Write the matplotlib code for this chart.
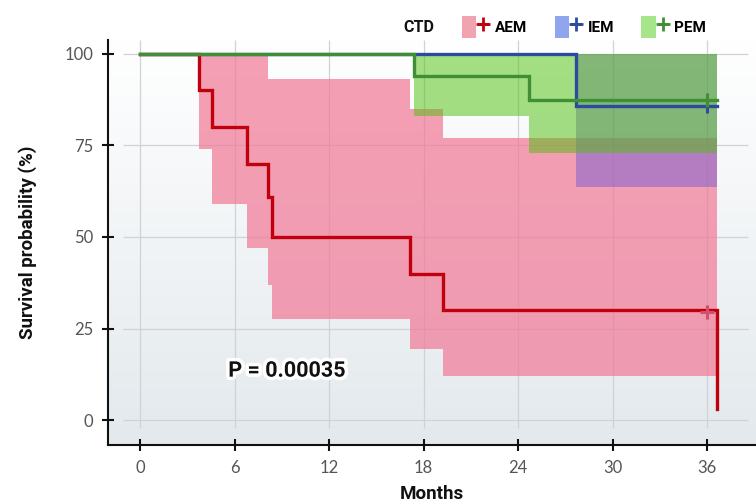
import numpy as np
import matplotlib
matplotlib.use("Agg")
import matplotlib.pyplot as plt
import matplotlib.patheffects as pe
from matplotlib.lines import Line2D
from matplotlib.patches import Patch
from matplotlib.legend_handler import HandlerTuple, HandlerLine2D

# ── Data ──────────────────────────────────────────────────────────────────
groups = ["AEM", "IEM", "PEM"]

aem_t  = [0, 3.75, 4.55, 6.77, 8.1, 8.35, 17.15, 19.25, 36.6]
aem_s  = [100, 90, 80, 70, 61, 50, 40, 30, 3]
aem_hi = [100, 100, 100, 100, 93, 93, 85, 77, 77]
aem_lo = [100, 74, 59, 47, 37, 27.5, 19.5, 12, 12]

iem_t  = [0, 27.7, 36.6]
iem_s  = [100, 85.7, 85.7]
iem_hi = [100, 100, 100]
iem_lo = [100, 63.7, 63.7]

pem_t  = [0, 17.4, 24.7, 36.6]
pem_s  = [100, 94, 87.5, 87.5]
pem_hi = [100, 100, 100, 100]
pem_lo = [100, 83, 73, 73]

censor_t = [36, 36, 36]
censor_s = [29.5, 85.7, 87.5]

x_ticks = [0, 6, 12, 18, 24, 30, 36]
y_ticks = [0, 25, 50, 75, 100]
p_text  = "P = 0.00035"

# ── Style ─────────────────────────────────────────────────────────────────
LINE_C  = ["#c0000c", "#2b4c9e", "#3f8f35"]
FILL_C  = ["#f17795", "#7a5fd0", "#4cc00a"]
FILL_A  = [0.70, 0.50, 0.50]
KEY_C   = ["#f2a3b0", "#8fa6ef", "#a6e58a"]
MARK_C  = ["#d0506e", "#2b4c9e", "#3f8f35"]
GRID_C  = "#cfd3d6"
TICK_C  = "#555555"


class ShortLine(HandlerLine2D):
    # legend key: short line with the censor "+" in the middle
    def get_xdata(self, legend, xdescent, ydescent, width, height, fontsize):
        xd = np.array([-xdescent + 0.22 * width, -xdescent + 0.78 * width])
        return xd, np.array([-xdescent + 0.5 * width])


fig = plt.figure(figsize=(7.56, 5.04), dpi=100)
ax = fig.add_axes([0.143, 0.117, 0.857, 0.804])
ax.set_xlim(-2.03, 39.1)
ax.set_ylim(-6.8, 103.8)

# panel gradient
grad = np.linspace(0, 1, 256).reshape(-1, 1)
cmap = matplotlib.colors.LinearSegmentedColormap.from_list("bg", ["#e3e9ed", "#ffffff"])
ax.imshow(grad, cmap=cmap, aspect="auto", origin="lower",
          extent=[-2.03, 39.1, -6.8, 103.8], zorder=0)

# grid
ax.hlines(y_ticks, -1.07, 38.6, color=GRID_C, lw=0.9, zorder=1)
ax.vlines(x_ticks, -2.2, 103.8, color=GRID_C, lw=0.9, zorder=1)

series = [
    (aem_t, aem_s, aem_lo, aem_hi),
    (iem_t, iem_s, iem_lo, iem_hi),
    (pem_t, pem_s, pem_lo, pem_hi),
]

for i, (t, s, lo, hi) in enumerate(series):
    ax.fill_between(t, lo, hi, step="post", color=FILL_C[i], alpha=FILL_A[i],
                    linewidth=0, zorder=2 + i)

for i, (t, s, lo, hi) in enumerate(series):
    ax.plot(t, s, drawstyle="steps-post", color=LINE_C[i], lw=2.4,
            solid_joinstyle="miter", zorder=6 + i)
    ax.plot(censor_t[i], censor_s[i], marker="+", color=MARK_C[i],
            markersize=10, mew=2.2, linestyle="none", zorder=9 + i)

ax.text(9.3, 13.5, p_text, fontsize=15.5, fontweight="bold", family="Roboto",
        ha="center", va="center", color="#111111", zorder=12,
        path_effects=[pe.withStroke(linewidth=5, foreground="white")])

# axes styling
for side in ["top", "right"]:
    ax.spines[side].set_visible(False)
for side in ["left", "bottom"]:
    ax.spines[side].set_linewidth(1.5)
    ax.spines[side].set_color("#111111")
    ax.spines[side].set_zorder(15)

ax.set_xticks(x_ticks)
ax.set_yticks(y_ticks)
ax.tick_params(direction="inout", length=9, width=1.5, color="#111111",
               labelsize=12, labelcolor=TICK_C, pad=6)
for lab in ax.get_xticklabels() + ax.get_yticklabels():
    lab.set_family("Lato")

ax.set_xlabel("Months", fontsize=13.5, fontweight="bold", family="Roboto",
              color="#111111", labelpad=7)
ax.set_ylabel("Survival probability (%)", fontsize=13.5, fontweight="bold",
              family="Roboto", color="#111111", labelpad=20)

# legend
handles = []
for i in range(3):
    handles.append((Patch(facecolor=KEY_C[i], edgecolor="none"),
                    Line2D([], [], color=LINE_C[i], lw=2.2, marker="+",
                           markersize=10, mew=2)))
fig.text(403 / 756, 1 - 27 / 504, "CTD", fontsize=11.5, fontweight="bold",
         family="Roboto", ha="left", va="center", color="#111111")
fig.legend(handles, groups,
           handler_map={tuple: HandlerTuple(ndivide=None), Line2D: ShortLine()},
           loc="center left", bbox_to_anchor=(462 / 756, 1 - 27 / 504),
           ncol=3, frameon=False, handlelength=1.85, handleheight=1.9,
           handletextpad=0.3, columnspacing=1.8, borderpad=0, borderaxespad=0,
           prop={"family": "Roboto", "weight": "bold", "size": 11})

fig.savefig("out.png", dpi=100)
